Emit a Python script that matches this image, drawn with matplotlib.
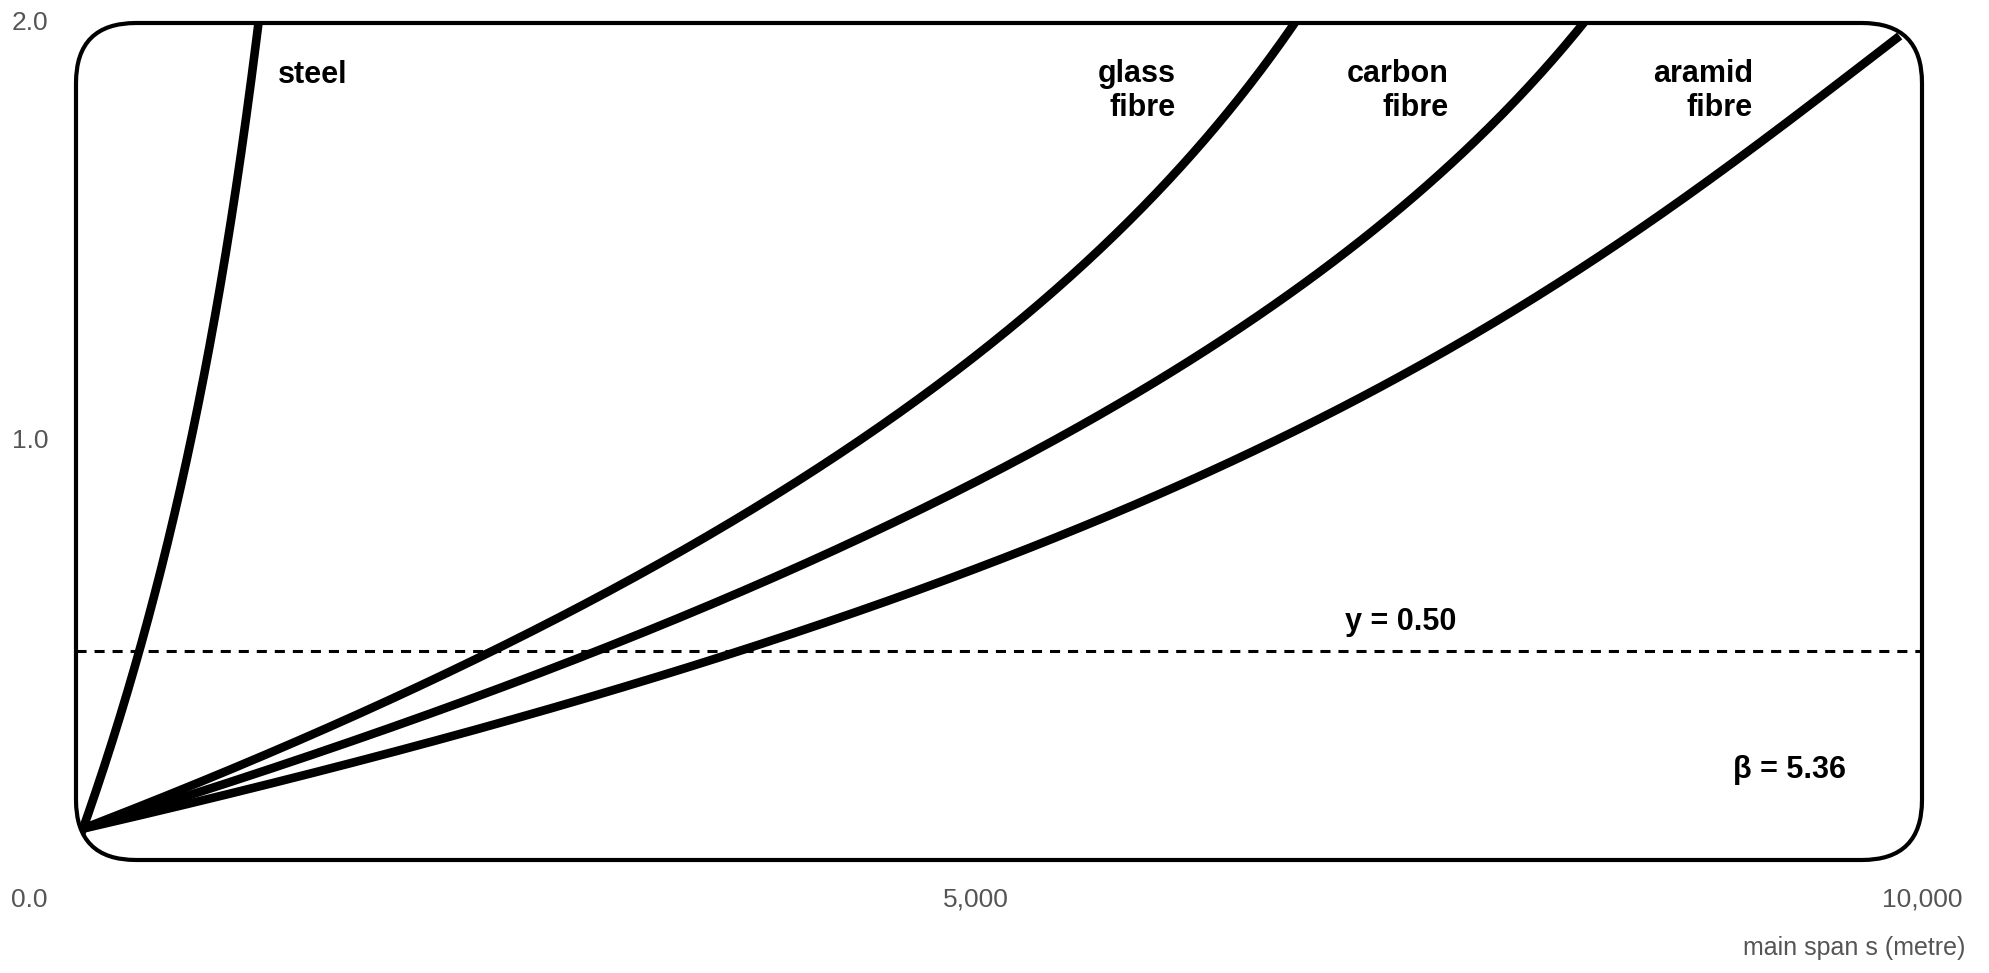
import numpy as np
import matplotlib
matplotlib.use("Agg")
import matplotlib.pyplot as plt
from matplotlib.patches import FancyBboxPatch
from matplotlib.transforms import blended_transform_factory

# main span s (metre) against the normalised ratio for each cable material
steel_s = [285, 412, 586, 740, 850, 1040, 1140, 1210]
steel_y = [0.075, 0.243, 0.50, 0.78, 0.995, 1.448, 1.75, 1.993]

glass_s = [285, 1300, 2472, 3450, 4390, 5357, 6149, 6683]
glass_y = [0.075, 0.27, 0.50, 0.74, 1.00, 1.338, 1.695, 1.998]

carbon_s = [285, 1600, 2985, 4200, 5420, 6609, 7581, 8209]
carbon_y = [0.075, 0.265, 0.50, 0.73, 1.00, 1.338, 1.695, 1.998]

aramid_s = [285, 2000, 3798, 5200, 6535, 7945, 9118, 9847]
aramid_y = [0.075, 0.265, 0.50, 0.735, 1.00, 1.338, 1.695, 1.957]

material_labels = ["steel", "glass\nfibre", "carbon\nfibre", "aramid\nfibre"]

x_ticks = [0, 5000, 10000]
x_tick_labels = ["0.0", "5,000", "10,000"]
y_ticks = [1.0, 2.0]
y_tick_labels = ["1.0", "2.0"]

y_level = 0.50
beta = 5.36

span_min, span_max = 248, 10000
ratio_min, ratio_max = 0.0, 2.0

W, H = 1989, 973
fig = plt.figure(figsize=(W / 100, H / 100), dpi=100, facecolor="white")

# axes box coincides with the rounded frame
left, right, top, bottom = 76, 1922, 23, 860
ax = fig.add_axes([left / W, 1 - bottom / H, (right - left) / W, (bottom - top) / H])
ax.set_xlim(span_min, span_max)
ax.set_ylim(ratio_min, ratio_max)
ax.axis("off")

box_w_px = right - left
box_h_px = bottom - top
frame = FancyBboxPatch((0, 0), 1, 1, transform=ax.transAxes,
                       boxstyle=f"round,pad=0,rounding_size={60 / box_w_px}",
                       mutation_aspect=box_w_px / box_h_px,
                       facecolor="none", edgecolor="black", linewidth=3.0,
                       zorder=5, clip_on=False)
ax.add_patch(frame)


def smooth_curve(xs, ys, n=300):
    """Smooth span-vs-ratio trend through the sampled points."""
    xs = np.asarray(xs, float)
    ys = np.asarray(ys, float)
    w = np.ones_like(ys)
    w[0] = w[-1] = 8.0
    coef = np.polyfit(ys, xs, 3, w=w)
    yy = np.linspace(ys[0] - 0.02, ys[-1] + 0.012, n)
    return np.polyval(coef, yy), yy


for xs, ys in [(steel_s, steel_y), (glass_s, glass_y),
               (carbon_s, carbon_y), (aramid_s, aramid_y)]:
    sx, sy = smooth_curve(xs, ys)
    line, = ax.plot(sx, sy, color="black", linewidth=6.2,
                    solid_capstyle="butt", solid_joinstyle="round", zorder=3)
    line.set_clip_path(frame)

# reference level
ax.hlines(y_level, span_min, span_max, colors="black", linewidth=2.2,
          linestyles=(0, (3.3, 2.6)), zorder=2)

font = "Liberation Sans"
lab_kw = dict(fontsize=22, fontweight="bold", family=font, color="black")

fig.text(278 / W, 1 - 75 / H, material_labels[0], ha="left", va="center", **lab_kw)
for txt, xr in zip(material_labels[1:], [1176, 1449, 1753]):
    fig.text(xr / W, 1 - 91 / H, txt, ha="right", va="center",
             multialignment="right", linespacing=1.15, **lab_kw)

fig.text(1345 / W, 1 - 622 / H, f"y = {y_level:.2f}", ha="left", va="center", **lab_kw)
fig.text(1733 / W, 1 - 770 / H, f"\u03b2 = {beta:.2f}", ha="left", va="center", **lab_kw)

# tick labels
tick_kw = dict(fontsize=19, family=font, color="#555555")
tx = blended_transform_factory(ax.transData, fig.transFigure)
for v, t in zip(x_ticks, x_tick_labels):
    ax.text(v, 1 - 900 / H, t, transform=tx, ha="center", va="center",
            clip_on=False, **tick_kw)
ty = blended_transform_factory(fig.transFigure, ax.transData)
for v, t in zip(y_ticks, y_tick_labels):
    ax.text(30 / W, v, t, transform=ty, ha="center", va="center",
            clip_on=False, **tick_kw)

fig.text(1965 / W, 1 - 948 / H, "main span s (metre)", ha="right", va="center",
         fontsize=18, family=font, color="#555555")

fig.savefig("out.png", dpi=100, facecolor="white")
